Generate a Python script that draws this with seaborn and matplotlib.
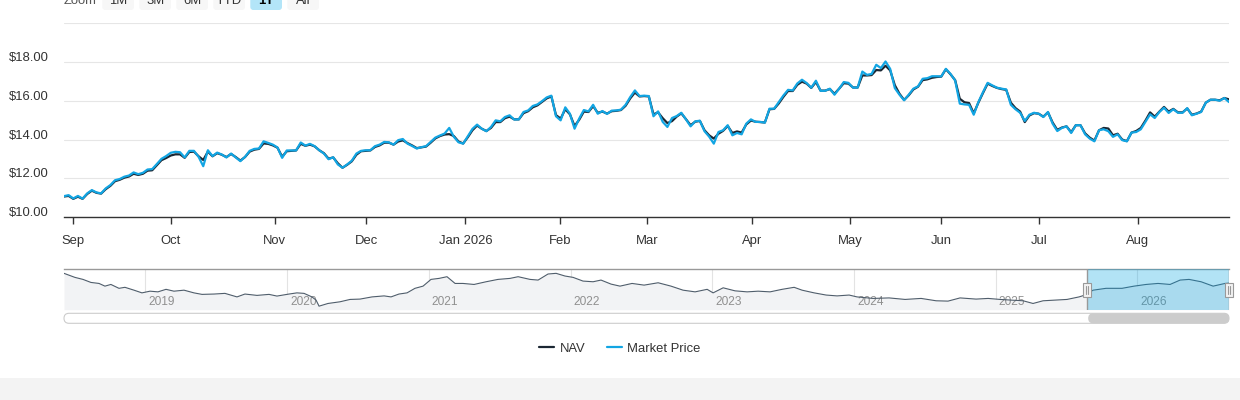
import numpy as np
import pandas as pd
import matplotlib
matplotlib.use("Agg")
import matplotlib.pyplot as plt
import matplotlib.transforms as mtransforms
from matplotlib.patches import FancyBboxPatch, Rectangle
from matplotlib.lines import Line2D
import seaborn as sns

# ---------------- data ----------------
market_price = [
    11.09, 11.14, 10.97, 11.10, 10.96, 11.23, 11.40, 11.28, 11.23, 11.49,
    11.66, 11.91, 11.97, 12.09, 12.15, 12.31, 12.22, 12.29, 12.46, 12.48,
    12.74, 13.01, 13.15, 13.32, 13.37, 13.35, 13.08, 13.42, 13.42, 13.11,
    12.63, 13.45, 13.15, 13.33, 13.23, 13.08, 13.28, 13.08, 12.89, 13.11,
    13.42, 13.52, 13.54, 13.91, 13.83, 13.74, 13.59, 13.06, 13.44, 13.44,
    13.44, 13.85, 13.69, 13.78, 13.66, 13.45, 13.28, 12.99, 13.09, 12.72,
    12.55, 12.72, 12.91, 13.28,
    13.42, 13.45, 13.45, 13.66, 13.74, 13.88, 13.86, 13.74, 13.97, 14.03,
    13.79, 13.67, 13.54, 13.61, 13.66, 13.88, 14.10, 14.21, 14.31, 14.60,
    14.14, 13.86, 13.79, 14.17, 14.55, 14.77, 14.56, 14.43, 14.65, 14.99,
    14.94, 15.16, 15.25, 15.03, 15.04, 15.42, 15.50, 15.73, 15.81, 15.98,
    16.17, 16.26, 15.20, 14.99, 15.66, 15.33, 14.56, 15.08, 15.52, 15.45,
    15.79, 15.33, 15.47, 15.32, 15.49, 15.50, 15.54, 15.79, 16.19, 16.53,
    16.24, 16.26, 16.24,
    15.20, 15.45, 14.91, 14.65, 15.11, 15.21, 15.38, 15.04, 14.68, 14.94,
    14.97, 14.43, 14.15, 13.79, 14.39, 14.48, 14.74, 14.22, 14.34, 14.27,
    14.82, 15.04, 14.91, 14.91, 14.87, 15.59, 15.59, 15.93, 16.27, 16.56,
    16.53, 16.89, 17.08, 16.91, 16.67, 17.03, 16.51, 16.51, 16.62, 16.31,
    16.62, 16.96, 16.92, 16.67, 16.68, 17.50, 17.33, 17.38, 17.85, 17.68,
    18.02, 17.64, 16.65, 16.31, 16.02, 16.31, 16.62, 16.74, 17.13, 17.16,
    17.26, 17.26, 17.25,
    17.64, 17.38, 17.04, 15.85, 15.81, 15.79, 15.28, 15.93, 16.44, 16.92,
    16.79, 16.67, 16.62, 16.58, 15.79, 15.56, 15.38, 14.96, 15.28, 15.38,
    15.33, 15.16, 15.42, 14.82, 14.44, 14.60, 14.68, 14.34, 14.74, 14.74,
    14.27, 14.05, 13.91, 14.48, 14.53, 14.43, 14.14, 14.27, 13.97, 13.91,
    14.36, 14.39, 14.53, 14.91, 15.30, 15.11, 15.42, 15.64, 15.37, 15.56,
    15.38, 15.38, 15.62, 15.25, 15.33, 15.42, 15.90, 16.05, 16.05, 16.00,
    16.14, 15.93,
]
nav = [
    11.07, 11.10, 10.95, 11.06, 10.95, 11.20, 11.37, 11.26, 11.22, 11.45,
    11.62, 11.86, 11.93, 12.04, 12.10, 12.24, 12.18, 12.24, 12.40, 12.42,
    12.68, 12.94, 13.05, 13.18, 13.24, 13.24, 13.06, 13.36, 13.38, 13.14,
    12.95, 13.38, 13.14, 13.30, 13.22, 13.10, 13.26, 13.10, 12.92, 13.10,
    13.38, 13.48, 13.52, 13.80, 13.78, 13.70, 13.58, 13.12, 13.40, 13.42,
    13.44, 13.78, 13.68, 13.74, 13.65, 13.45, 13.30, 13.02, 13.08, 12.78,
    12.55, 12.70, 12.88, 13.22,
    13.40, 13.42, 13.44, 13.62, 13.70, 13.84, 13.84, 13.74, 13.90, 13.96,
    13.82, 13.70, 13.56, 13.60, 13.64, 13.84, 14.06, 14.18, 14.26, 14.28,
    14.18, 13.90, 13.80, 14.12, 14.48, 14.72, 14.56, 14.44, 14.60, 14.90,
    14.90, 15.10, 15.18, 15.04, 15.04, 15.36, 15.46, 15.66, 15.76, 15.94,
    16.12, 16.22, 15.26, 15.08, 15.56, 15.30, 14.70, 15.02, 15.44, 15.42,
    15.72, 15.38, 15.44, 15.34, 15.46, 15.48, 15.52, 15.74, 16.12, 16.42,
    16.22, 16.24, 16.22,
    15.30, 15.40, 15.10, 14.85, 14.95, 15.18, 15.35, 15.05, 14.74, 14.92,
    14.96, 14.48, 14.22, 14.05, 14.30, 14.45, 14.70, 14.34, 14.42, 14.36,
    14.78, 14.98, 14.92, 14.90, 14.88, 15.56, 15.58, 15.86, 16.20, 16.50,
    16.50, 16.82, 16.98, 16.88, 16.66, 16.96, 16.52, 16.52, 16.60, 16.36,
    16.62, 16.90, 16.88, 16.68, 16.68, 17.30, 17.30, 17.32, 17.58, 17.56,
    17.80, 17.56, 16.80, 16.36, 16.04, 16.28, 16.58, 16.72, 17.06, 17.10,
    17.18, 17.22, 17.24,
    17.62, 17.36, 17.06, 16.10, 15.92, 15.88, 15.35, 15.90, 16.40, 16.88,
    16.76, 16.66, 16.60, 16.56, 15.90, 15.62, 15.44, 14.90, 15.24, 15.36,
    15.33, 15.18, 15.40, 14.88, 14.50, 14.62, 14.68, 14.38, 14.74, 14.74,
    14.32, 14.10, 13.95, 14.48, 14.60, 14.57, 14.22, 14.30, 14.00, 13.92,
    14.36, 14.44, 14.60, 14.98, 15.40, 15.18, 15.44, 15.68, 15.44, 15.58,
    15.40, 15.40, 15.60, 15.28, 15.34, 15.44, 15.90, 16.05, 16.05, 16.02,
    16.14, 16.07,
]
month_labels = ["Sep", "Oct", "Nov", "Dec", "Jan 2026", "Feb", "Mar",
                "Apr", "May", "Jun", "Jul", "Aug"]
month_start_day = [1.9, 23.0, 45.4, 65.1, 86.5, 106.9, 125.7, 148.2,
                   169.3, 189.0, 210.1, 231.4]
price_ticks = [10, 12, 14, 16, 18, 20]

hist_year = [
    2018.425, 2018.502, 2018.559, 2018.615, 2018.672, 2018.714, 2018.756,
    2018.813, 2018.855, 2018.919, 2018.975, 2019.032, 2019.088, 2019.145,
    2019.201, 2019.272, 2019.342, 2019.399, 2019.484, 2019.561, 2019.646,
    2019.702, 2019.787, 2019.872, 2019.928, 2020.013, 2020.069, 2020.119,
    2020.175, 2020.204, 2020.225, 2020.288, 2020.373, 2020.444, 2020.514,
    2020.599, 2020.684, 2020.733, 2020.789, 2020.846, 2020.902, 2020.959,
    2021.015, 2021.072, 2021.128, 2021.185, 2021.241, 2021.319, 2021.404,
    2021.488, 2021.573, 2021.630, 2021.714, 2021.771, 2021.841, 2021.898,
    2021.961, 2022.018, 2022.088, 2022.159, 2022.215, 2022.286, 2022.349,
    2022.434, 2022.519, 2022.618, 2022.709, 2022.794, 2022.879, 2022.964,
    2023.006, 2023.077, 2023.161, 2023.246, 2023.324, 2023.408, 2023.493,
    2023.578, 2023.634, 2023.719, 2023.804, 2023.881, 2023.966, 2024.022,
    2024.135, 2024.248, 2024.361, 2024.474, 2024.580, 2024.664, 2024.749,
    2024.862, 2024.947, 2025.031, 2025.109, 2025.194, 2025.264, 2025.335,
    2025.420, 2025.504, 2025.589, 2025.631, 2025.688, 2025.779, 2025.892,
    2025.977, 2026.062, 2026.146, 2026.231, 2026.302, 2026.365, 2026.450,
    2026.535, 2026.619, 2026.647,
]
hist_nav = [
    21.6, 19.2, 18.0, 16.2, 15.6, 14.0, 15.0,
    12.7, 13.3, 11.6, 10.0, 11.0, 10.6, 12.1,
    11.0, 11.6, 10.0, 9.1, 9.3, 9.7, 7.6,
    9.3, 8.5, 9.1, 8.1, 9.3, 10.0, 9.7,
    7.6, 5.7, 2.1, 3.7, 4.7, 6.1, 6.3,
    7.6, 8.2, 7.6, 9.3, 10.0, 12.7, 14.0,
    18.0, 18.6, 19.6, 15.6, 15.6, 15.0, 16.6,
    18.0, 18.6, 19.6, 18.0, 17.6, 21.2, 21.6,
    20.0, 19.2, 17.0, 16.6, 17.6, 15.2, 14.0,
    15.6, 14.6, 16.0, 14.0, 11.6, 10.6, 12.1,
    10.0, 13.0, 11.2, 10.6, 11.0, 10.6, 12.1,
    13.3, 11.6, 10.0, 8.7, 8.2, 8.7, 7.6,
    6.7, 7.0, 6.1, 6.7, 5.3, 5.1, 7.0,
    6.3, 6.7, 6.1, 5.7, 5.3, 3.7, 5.3,
    5.7, 6.1, 7.6, 8.7, 11.6, 12.7, 12.7,
    14.0, 15.0, 15.6, 15.0, 17.6, 18.0, 16.6,
    14.0, 15.6, 15.8,
]
year_ticks = [2019, 2020, 2021, 2022, 2023, 2024, 2025, 2026]
selected_range = (2025.646, 2026.647)
zoom_buttons = ["1M", "3M", "6M", "YTD", "1Y", "All"]
active_button = "1Y"

# ---------------- style ----------------
sns.set_theme(style="white")
plt.rcParams["font.family"] = ["Liberation Sans", "DejaVu Sans"]
TXT = "#333333"
NAV_C = "#1b2733"
MKT_C = "#12a5e3"

W, H = 1240, 400
fig = plt.figure(figsize=(W / 100, H / 100), dpi=100)
fig.patch.set_facecolor("white")


def fx(px):
    return px / W


def fy(py):
    return 1 - py / H


# ---------------- main chart ----------------
ax = fig.add_axes([fx(64), fy(217.3), (1229 - 64) / W, (217.3 - 23) / H])
n = len(nav)
df = pd.DataFrame({
    "day": list(range(n)) * 2,
    "price": nav + market_price,
    "series": ["NAV"] * n + ["Market Price"] * n,
})
sns.lineplot(data=df, x="day", y="price", hue="series",
             hue_order=["NAV", "Market Price"],
             palette={"NAV": NAV_C, "Market Price": MKT_C},
             linewidth=1.6, ax=ax, legend=False, sort=False)
ax.set_xlim(0, n - 1)
ax.set_ylim(price_ticks[0], price_ticks[-1])
ax.set_xlabel("")
ax.set_ylabel("")
for s in ["top", "right", "left"]:
    ax.spines[s].set_visible(False)
ax.spines["bottom"].set_color("#333333")
ax.spines["bottom"].set_linewidth(1.0)
ax.set_yticks(price_ticks)
ax.set_yticklabels([f"${v:.2f}" if v != price_ticks[-1] else "" for v in price_ticks])
ax.grid(axis="y", color="#e6e6e6", linewidth=0.8)
ax.grid(axis="x", visible=False)
ax.set_axisbelow(True)
ax.tick_params(axis="y", length=0, pad=10.8, labelsize=9.4, labelcolor=TXT)
ax.set_xticks(month_start_day)
ax.set_xticklabels(month_labels)
ax.tick_params(axis="x", length=5, width=1, color="#333333", pad=8.0,
               labelsize=9.4, labelcolor=TXT, bottom=True)
off = mtransforms.ScaledTranslation(0, 5.5 / 100, fig.dpi_scale_trans)
for lab in ax.get_yticklabels():
    lab.set_transform(lab.get_transform() + off)

# ---------------- navigator ----------------
ntop, nbot = 269.3, 309.7
nax = fig.add_axes([fx(64), fy(nbot), (1229 - 64) / W, (nbot - ntop) / H])
nax.set_xlim(hist_year[0], hist_year[-1])
nax.set_ylim(0, 24)
nax.fill_between(hist_year, hist_nav, 0, color="#f2f3f5", linewidth=0, zorder=1)
sns.lineplot(x=hist_year, y=hist_nav, color="#4f5d6b", linewidth=0.8, ax=nax,
             sort=False, zorder=3)
nax.set_xticks(year_ticks)
nax.set_xticklabels([])
nax.set_yticks([])
nax.grid(axis="x", color="#e3e3e3", linewidth=0.8)
nax.set_axisbelow(True)
nax.tick_params(axis="x", length=0)
for s in ["right", "left", "bottom"]:
    nax.spines[s].set_visible(False)
nax.spines["top"].set_color("#999999")
nax.spines["top"].set_linewidth(1.0)
lab_off = mtransforms.ScaledTranslation(3 / 100, 0, fig.dpi_scale_trans)
for yr in year_ticks:
    nax.text(yr, 0.183, str(yr), transform=mtransforms.blended_transform_factory(
        nax.transData, nax.transAxes) + lab_off,
        ha="left", va="center", fontsize=8.6, color="#909090", zorder=2)
s0, s1 = selected_range
nax.axvspan(s0, s1, color="#00a3e0", alpha=0.30, linewidth=0, zorder=5)
for xv in (s0, s1):
    nax.axvline(xv, color="#999999", linewidth=1.0, zorder=6)
yrs_per_px = (hist_year[-1] - hist_year[0]) / 1165.0
bt = mtransforms.blended_transform_factory(nax.transData, nax.transAxes)
hw = 7.5 * yrs_per_px
for xv in (s0, s1):
    nax.add_patch(Rectangle((xv - hw / 2, 0.314), hw, 0.354, transform=bt,
                            facecolor="#f2f2f2", edgecolor="#999999",
                            linewidth=0.8, zorder=7, clip_on=False))
    for d in (-1.0, 1.0):
        nax.add_line(Line2D([xv + d * yrs_per_px] * 2, [0.40, 0.58], transform=bt,
                            color="#999999", linewidth=0.8, zorder=8, clip_on=False))

# ---------------- scrollbar ----------------
ident = mtransforms.IdentityTransform()
fig.patches.append(FancyBboxPatch((64, H - 323.3), 1165, 10,
                                  boxstyle="round,pad=0,rounding_size=5",
                                  facecolor="white", edgecolor="#cccccc",
                                  linewidth=0.8, transform=ident))
fig.canvas.draw()
x0_disp = nax.transData.transform((s0, 0))[0]
x1_disp = nax.transData.transform((s1, 0))[0]
fig.patches.append(FancyBboxPatch((x0_disp + 1, H - 323.3), x1_disp - x0_disp - 1, 10,
                                  boxstyle="round,pad=0,rounding_size=5",
                                  facecolor="#cccccc", edgecolor="none",
                                  transform=ident))

# ---------------- range selector (partly cut off at top, as in the source) ----------------
fig.text(fx(64), fy(4), "Zoom", ha="left", va="baseline", fontsize=9.4, color="#555555")
for i, lab in enumerate(zoom_buttons):
    bx = 102.3 + i * 37.0
    active = lab == active_button
    fig.patches.append(FancyBboxPatch((bx, H - 10), 31.7, 24,
                                      boxstyle="round,pad=0,rounding_size=3",
                                      facecolor="#b3e5f8" if active else "#f7f7f7",
                                      edgecolor="none", transform=ident))
    fig.text(fx(bx + 15.85), fy(4), lab, ha="center", va="baseline", fontsize=9.4,
             color="#000000" if active else TXT,
             fontweight="bold" if active else "normal")

# ---------------- legend ----------------
handles = [Line2D([], [], color=NAV_C, linewidth=1.6),
           Line2D([], [], color=MKT_C, linewidth=1.6)]
leg = fig.legend(handles, ["NAV", "Market Price"], loc="center",
                 bbox_to_anchor=(0.5, fy(348.5)), ncol=2, frameon=False,
                 fontsize=9.4, handlelength=1.15, handletextpad=0.45,
                 columnspacing=1.6)
for t in leg.get_texts():
    t.set_color(TXT)

# ---------------- footer band ----------------
fig.patches.append(Rectangle((0, 0), W, 22, facecolor="#f3f3f3",
                             edgecolor="none", transform=ident))

fig.savefig("out.png", dpi=100)
